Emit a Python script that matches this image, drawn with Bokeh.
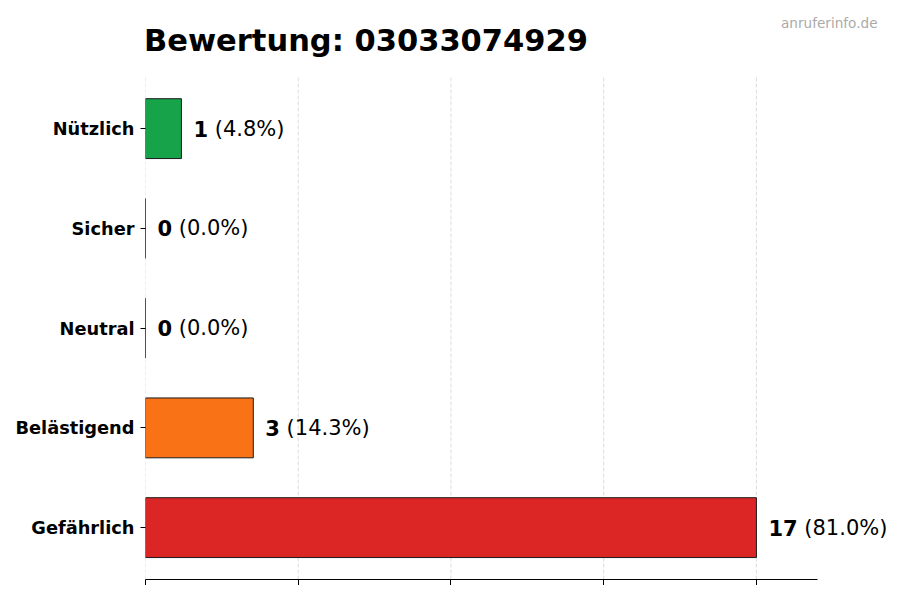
from bokeh.plotting import figure
from bokeh.models import ColumnDataSource, Range1d, FixedTicker, Label, LabelSet
from bokeh.core.properties import value
from bokeh.embed import file_html
from bokeh.resources import INLINE

categories = ["Nützlich", "Sicher", "Neutral", "Belästigend", "Gefährlich"]
counts = [1, 0, 0, 3, 17]
colors = ["#16a34a", "#3b82f6", "#9ca3af", "#f97316", "#dc2626"]
title_text = "Bewertung: 03033074929"
watermark = "anruferinfo.de"

n = len(categories)
total = sum(counts)
vmax = max(counts)
pct_labels = ["(%.1f%%)" % (c / total * 100) for c in counts]
num_labels = [str(c) for c in counts]
ypos = [n - 1 - i for i in range(n)]  # first category on top

FS = 21  # value label font px
num_off = [12] * n
pct_off = [12 + len(s) * 0.696 * FS + 0.318 * FS for s in num_labels]

src = ColumnDataSource(dict(y=ypos, cnt=counts, color=colors,
                            num=num_labels, pct=pct_labels,
                            num_off=num_off, pct_off=pct_off))

# layout (pixels)
FRAME_L, FRAME_W, FRAME_H = 145, 755, 579
AXIS_W = 672  # visible x-axis length
PX_PER_CAT = 99.75

x_axis_end = vmax * 1.1
x_end = x_axis_end * FRAME_W / AXIS_W
y_lo = -0.52
y_hi = y_lo + FRAME_H / PX_PER_CAT
grid_top = n - 1 + 0.52

p = figure(x_range=Range1d(0, x_end), y_range=Range1d(y_lo, y_hi),
           frame_width=FRAME_W, frame_height=FRAME_H,
           min_border_left=FRAME_L, min_border_right=0,
           min_border_top=0, min_border_bottom=0,
           output_backend="svg", toolbar_location=None)
p.outline_line_color = None
p.background_fill_color = "white"
p.border_fill_color = "white"
p.xgrid.grid_line_color = None
p.ygrid.grid_line_color = None

ticks = [vmax * i / 4 for i in range(5)]
p.segment(x0=ticks, y0=[y_lo] * len(ticks), x1=ticks, y1=[grid_top] * len(ticks),
          line_color="#d4d4d4", line_dash="4 2", line_width=0.8)

p.hbar(y="y", left=0, right="cnt", height=0.6, fill_color="color",
       line_color="#1a1a1a", line_width=1, source=src)

p.xaxis.ticker = FixedTicker(ticks=ticks)
p.xaxis.bounds = (0, x_axis_end)
p.xaxis.major_label_overrides = {t: "" for t in ticks}
p.xaxis.major_label_standoff = 0
p.xaxis.major_tick_out = 6
p.xaxis.major_tick_in = 0
p.xaxis.minor_tick_line_color = None
p.xaxis.axis_line_color = "black"
p.xaxis.major_tick_line_color = "black"

p.yaxis.ticker = FixedTicker(ticks=ypos)
p.yaxis.major_label_overrides = {y: c for y, c in zip(ypos, categories)}
p.yaxis.minor_tick_line_color = None
p.yaxis.axis_line_color = None
p.yaxis.major_tick_out = 5
p.yaxis.major_tick_in = 0
p.yaxis.major_tick_line_color = "black"
p.yaxis.major_label_standoff = 6
p.yaxis.major_label_text_font = "DejaVu Sans"
p.yaxis.major_label_text_font_style = "bold"
p.yaxis.major_label_text_font_size = "17.8px"
p.yaxis.major_label_text_color = "black"

p.add_layout(LabelSet(x="cnt", y="y", text="num", source=src, x_offset="num_off",
                      text_font=value("DejaVu Sans"), text_font_style="bold",
                      text_font_size="%dpx" % FS, text_baseline="middle",
                      text_align="left", text_color="black"))
p.add_layout(LabelSet(x="cnt", y="y", text="pct", source=src, x_offset="pct_off",
                      text_font=value("DejaVu Sans"), text_font_style="normal",
                      text_font_size="%dpx" % FS, text_baseline="middle",
                      text_align="left", text_color="black"))

p.add_layout(Label(x=-1.5, y=FRAME_H - 40, x_units="screen", y_units="screen", text=title_text,
                   text_font="DejaVu Sans", text_font_style="bold", text_font_size="30.5px",
                   text_baseline="alphabetic", text_align="left", text_color="black"))
p.add_layout(Label(x=877 - FRAME_L, y=FRAME_H - 22.5, x_units="screen", y_units="screen",
                   text=watermark, text_font="DejaVu Sans", text_font_size="13.6px",
                   text_baseline="alphabetic", text_align="right", text_color="#aaaaaa"))

open("out.html", "w").write(file_html(p, INLINE))
